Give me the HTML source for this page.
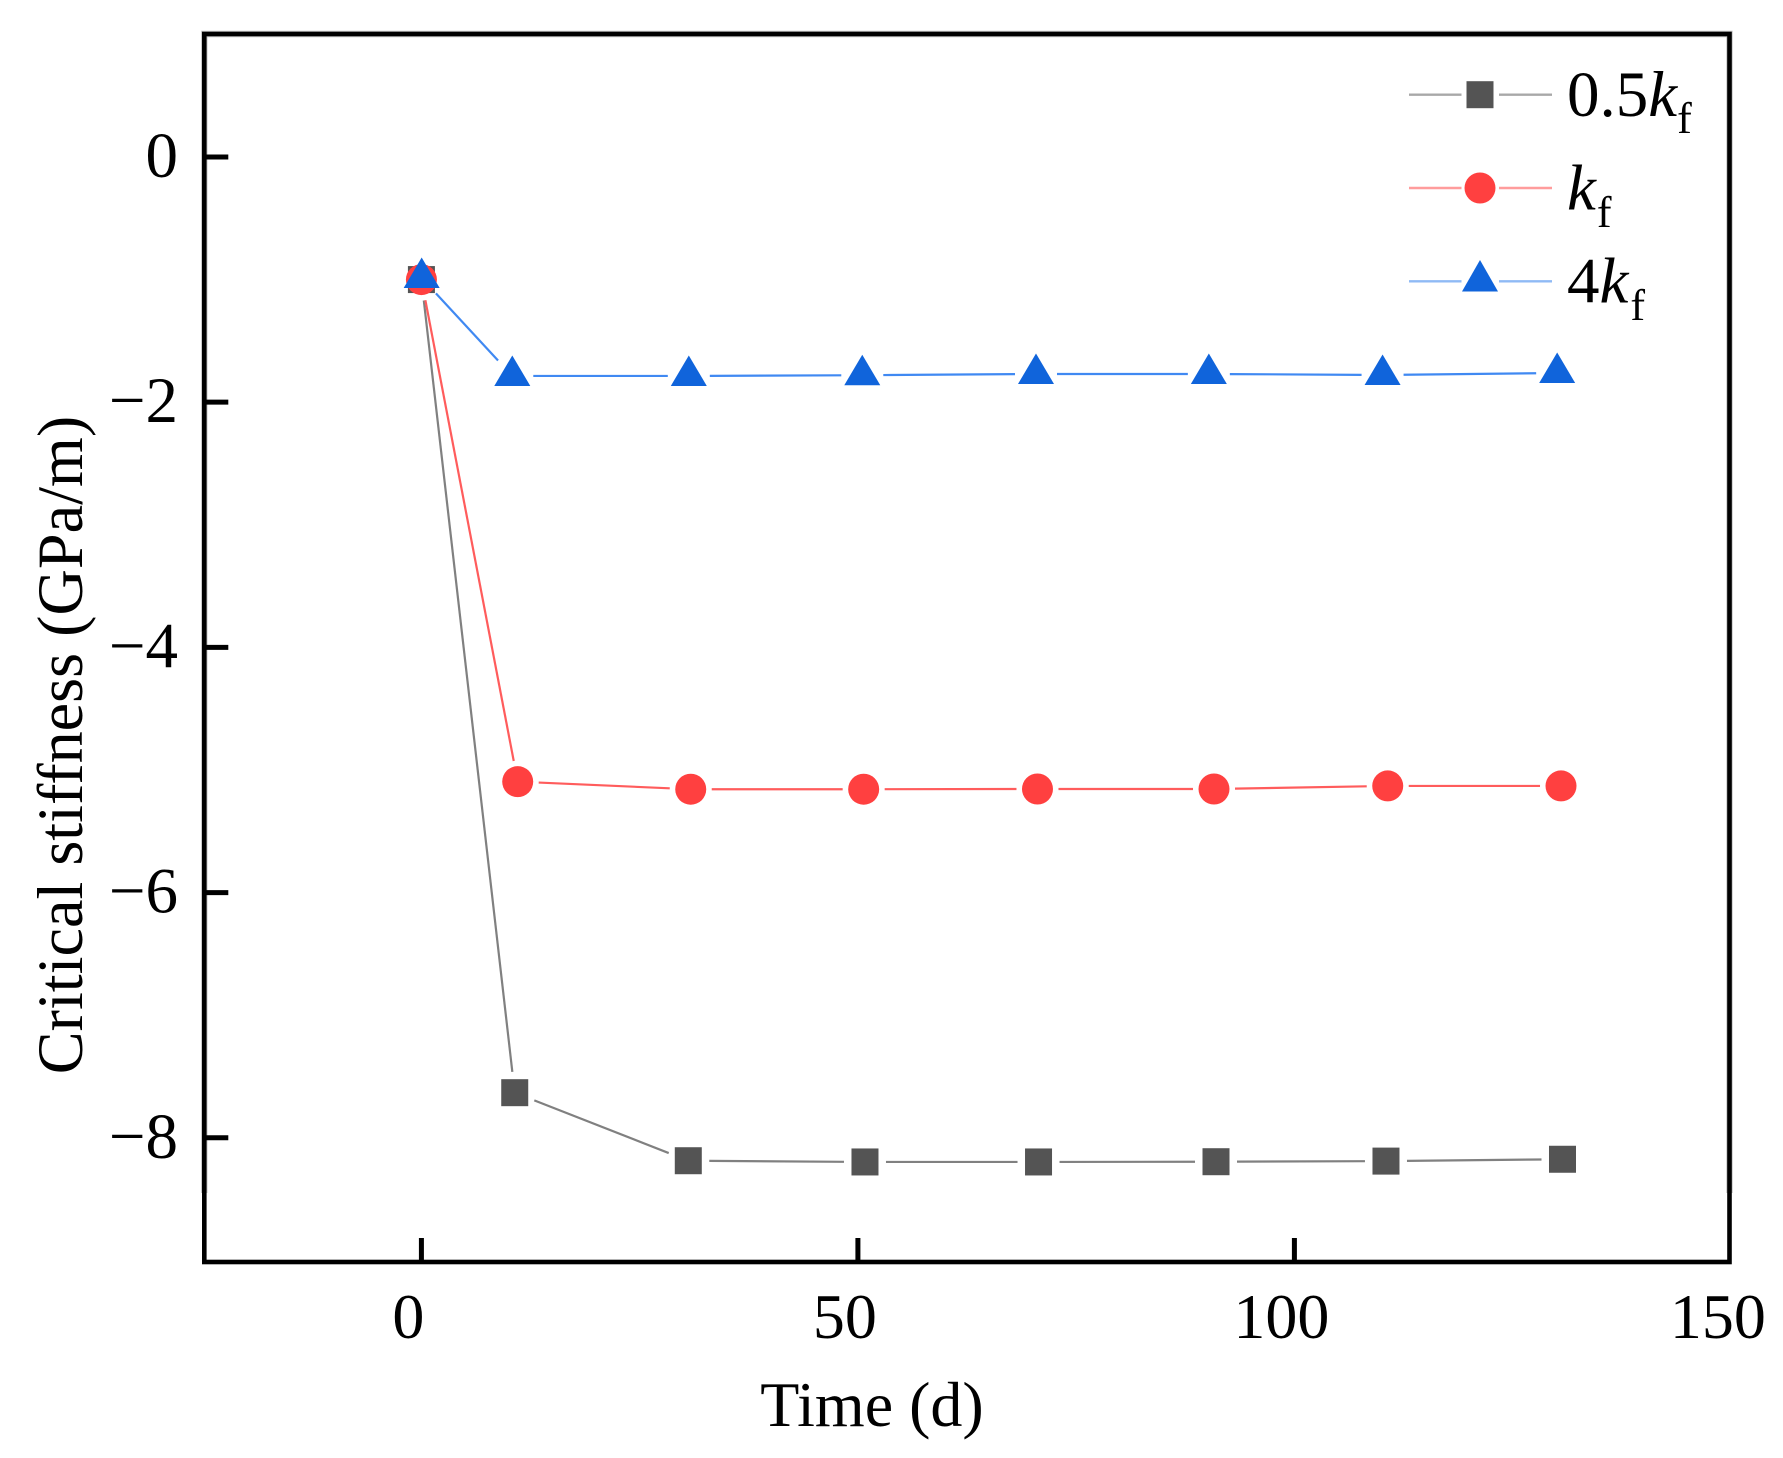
<!DOCTYPE html>
<html lang="en">
<head>
<meta charset="utf-8">
<title>Critical stiffness over time</title>
<style>
html,body{margin:0;padding:0;background:#fff;}
svg{display:block;}
text{font-family:"Liberation Serif",serif;fill:#000;}
</style>
</head>
<body>
<svg id="chart" xmlns="http://www.w3.org/2000/svg" width="1783" height="1458" viewBox="0 0 1783 1458">
  <rect x="0" y="0" width="1783" height="1458" fill="#fff"/>
  <g id="series-layer"></g>
  <g id="axes-layer"></g>
  <text x="872" y="1426" font-size="64" text-anchor="middle">Time (d)</text>
  <text x="0" y="0" font-size="64.2" text-anchor="middle" transform="translate(82 745) rotate(-90)">Critical stiffness (GPa/m)</text>
  <g>
    <g>
      <line x1="1409" y1="94.7" x2="1461.5" y2="94.7" stroke="#a8a8a8" stroke-width="2.4"/>
      <line x1="1499" y1="94.7" x2="1552" y2="94.7" stroke="#a8a8a8" stroke-width="2.4"/>
      <rect x="1466.5" y="81.2" width="27" height="27" fill="#545454"/>
      <text x="1567" y="116" font-size="65">0.5<tspan font-style="italic">k</tspan><tspan font-size="44" dy="17">f</tspan></text>
    </g>
    <g>
      <line x1="1409" y1="188" x2="1461.5" y2="188" stroke="#ff9c9c" stroke-width="2.4"/>
      <line x1="1499" y1="188" x2="1552" y2="188" stroke="#ff9c9c" stroke-width="2.4"/>
      <circle cx="1480" cy="188" r="15.5" fill="#ff4040"/>
      <text x="1567" y="209.3" font-size="65"><tspan font-style="italic">k</tspan><tspan font-size="44" dy="17.5" dx="1">f</tspan></text>
    </g>
    <g>
      <line x1="1409" y1="281.3" x2="1461.5" y2="281.3" stroke="#8fbaf5" stroke-width="2.4"/>
      <line x1="1499" y1="281.3" x2="1552" y2="281.3" stroke="#8fbaf5" stroke-width="2.4"/>
      <polygon points="1480,260 1498,291.5 1462,291.5" fill="#1064db"/>
      <text x="1567" y="302.7" font-size="65">4<tspan font-style="italic">k</tspan><tspan font-size="44" dy="17.5" dx="2">f</tspan></text>
    </g>
  </g>
</svg>
<script>
var xTicks = [0, 50, 100, 150];
var yTicks = [0, -2, -4, -6, -8];
var xTickLabels = ['0', '50', '100', '150'];
var yTickLabels = ['0', '\u22122', '\u22124', '\u22126', '\u22128'];
var xDomain = [-24.87, 149.84];
var yDomain = [-9.013, 1.003];

var timeHalfK = [0, 10.69, 30.57, 50.81, 70.69, 91.02, 110.49, 130.71];
var stiffnessHalfK = [-1.0, -7.632, -8.187, -8.197, -8.197, -8.195, -8.19, -8.175];
var timeK = [0, 11.03, 30.85, 50.66, 70.57, 90.79, 110.69, 130.54];
var stiffnessK = [-1.0, -5.095, -5.157, -5.157, -5.155, -5.155, -5.13, -5.13];
var time4K = [0.03, 10.41, 30.63, 50.5, 70.4, 90.2, 110.1, 130.1];
var stiffness4K = [-0.987, -1.786, -1.786, -1.78, -1.77, -1.77, -1.778, -1.762];

var plotLeft = 204.3, plotRight = 1729.5, plotTop = 34, plotBottom = 1262;
var fringeBottom = 1193;
var SVGNS = 'http://www.w3.org/2000/svg';
var seriesLayer = document.getElementById('series-layer');
var axesLayer = document.getElementById('axes-layer');

function xScale(v) {
  return plotLeft + (v - xDomain[0]) / (xDomain[1] - xDomain[0]) * (plotRight - plotLeft);
}
function yScale(v) {
  return plotTop + (yDomain[1] - v) / (yDomain[1] - yDomain[0]) * (plotBottom - plotTop);
}
function make(tag, parent) {
  var el = document.createElementNS(SVGNS, tag);
  parent.appendChild(el);
  return el;
}

function drawSegments(xs, ys, color, name) {
  var gap = 21;
  for (var i = 0; i < xs.length - 1; i++) {
    var x1 = xScale(xs[i]), y1 = yScale(ys[i]);
    var x2 = xScale(xs[i + 1]), y2 = yScale(ys[i + 1]);
    var d = Math.sqrt((x2 - x1) * (x2 - x1) + (y2 - y1) * (y2 - y1));
    var ux = (x2 - x1) / d, uy = (y2 - y1) / d;
    var seg = make('line', seriesLayer);
    
    
    seg.setAttribute('x1', x1 + ux * gap);
    seg.setAttribute('y1', y1 + uy * gap);
    seg.setAttribute('x2', x2 - ux * gap);
    seg.setAttribute('y2', y2 - uy * gap);
    seg.setAttribute('stroke', color);
    seg.setAttribute('stroke-width', '2.2');
  }
}

function drawSquares(xs, ys) {
  for (var i = 0; i < xs.length; i++) {
    var m = make('rect', seriesLayer);
    
    
    m.setAttribute('x', xScale(xs[i]) - 13.5);
    m.setAttribute('y', yScale(ys[i]) - 13.5);
    m.setAttribute('width', 27);
    m.setAttribute('height', 27);
    m.setAttribute('fill', '#545454');
  }
}
function drawCircles(xs, ys) {
  for (var i = 0; i < xs.length; i++) {
    var m = make('circle', seriesLayer);
    
    
    m.setAttribute('cx', xScale(xs[i]));
    m.setAttribute('cy', yScale(ys[i]));
    m.setAttribute('r', 15.5);
    m.setAttribute('fill', '#ff4040');
  }
}
function drawTriangles(xs, ys) {
  for (var i = 0; i < xs.length; i++) {
    var cx = xScale(xs[i]), cy = yScale(ys[i]);
    var m = make('polygon', seriesLayer);
    
    
    m.setAttribute('points', cx + ',' + (cy - 20.5) + ' ' + (cx + 18) + ',' + (cy + 10) + ' ' + (cx - 18) + ',' + (cy + 10));
    m.setAttribute('fill', '#1064db');
  }
}

drawSegments(timeHalfK, stiffnessHalfK, '#808080', 'series-0-5kf');
drawSegments(timeK, stiffnessK, '#ff5c5c', 'series-kf');
drawSegments(time4K, stiffness4K, '#4089f2', 'series-4kf');
drawSquares(timeHalfK, stiffnessHalfK);
drawCircles(timeK, stiffnessK);
drawTriangles(time4K, stiffness4K);

var fringe = make('polyline', axesLayer);


fringe.setAttribute('points', plotLeft + ',' + fringeBottom + ' ' + plotLeft + ',' + plotTop + ' ' + plotRight + ',' + plotTop + ' ' + plotRight + ',' + fringeBottom);
fringe.setAttribute('fill', 'none');
fringe.setAttribute('stroke', '#c4c4c4');
fringe.setAttribute('stroke-width', '6.4');

var frame = make('rect', axesLayer);


frame.setAttribute('x', plotLeft);
frame.setAttribute('y', plotTop);
frame.setAttribute('width', plotRight - plotLeft);
frame.setAttribute('height', plotBottom - plotTop);
frame.setAttribute('fill', 'none');
frame.setAttribute('stroke', '#000');
frame.setAttribute('stroke-width', '4.6');

xTicks.forEach(function (t, i) {
  var px = xScale(t);
  if (t < xDomain[1]) {
    var tick = make('line', axesLayer);
    
    
    tick.setAttribute('x1', px);
    tick.setAttribute('x2', px);
    tick.setAttribute('y1', plotBottom);
    tick.setAttribute('y2', plotBottom - 24);
    tick.setAttribute('stroke', '#000');
    tick.setAttribute('stroke-width', '5');
  }
  var label = make('text', axesLayer);
  
  
  label.setAttribute('x', px - 13);
  label.setAttribute('y', 1338);
  label.setAttribute('font-size', '64');
  label.setAttribute('text-anchor', 'middle');
  label.textContent = xTickLabels[i];
});

yTicks.forEach(function (t, i) {
  var py = yScale(t);
  var tick = make('line', axesLayer);
  
  
  tick.setAttribute('x1', plotLeft);
  tick.setAttribute('x2', plotLeft + 24);
  tick.setAttribute('y1', py);
  tick.setAttribute('y2', py);
  tick.setAttribute('stroke', '#000');
  tick.setAttribute('stroke-width', '5');
  var label = make('text', axesLayer);
  
  
  label.setAttribute('x', 178);
  label.setAttribute('y', py + 20);
  label.setAttribute('font-size', '65');
  label.setAttribute('text-anchor', 'end');
  label.textContent = yTickLabels[i];
});
</script>
</body>
</html>
